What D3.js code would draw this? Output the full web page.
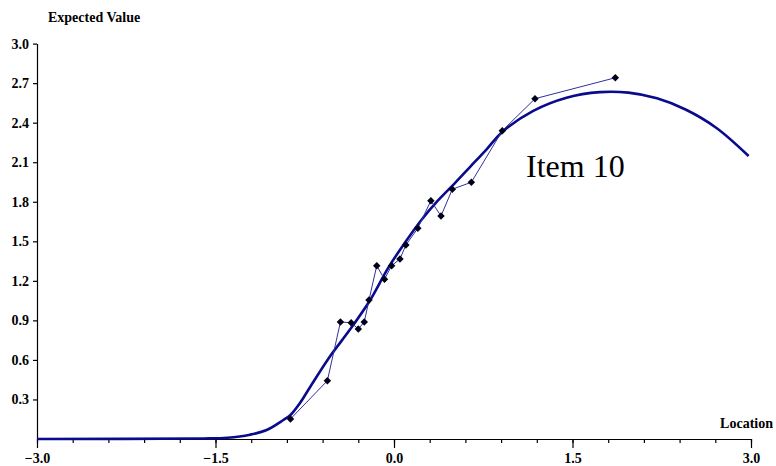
<!DOCTYPE html>
<html>
<head>
<meta charset="utf-8">
<style>
  body { margin: 0; background: #fff; }
  text { font-family: "Liberation Serif", "Times New Roman", serif; }
</style>
</head>
<body>
<script src="https://cdn.jsdelivr.net/npm/d3@7/dist/d3.min.js"></script>
<script>
  // expected value curve
  var curveX = [-3.0, -1.6, -1.4, -1.21, -1.07, -0.93, -0.87, -0.79, -0.71, -0.54, -0.37, -0.2,
                -0.05, 0.09, 0.23, 0.37, 0.51, 0.64, 0.78, 0.91, 1.17, 1.45, 1.73, 1.97, 2.21, 2.45, 2.71, 2.98];
  var curveY = [0.0, 0.004, 0.01, 0.033, 0.068, 0.144, 0.182, 0.273, 0.387, 0.624, 0.83, 1.055,
                1.297, 1.487, 1.662, 1.81, 1.94, 2.065, 2.2, 2.33, 2.49, 2.59, 2.632, 2.628, 2.585, 2.5, 2.36, 2.147];

  // observed means
  var obsX = [-0.87, -0.56, -0.45, -0.36, -0.3, -0.25, -0.21, -0.145, -0.08, -0.02, 0.05, 0.1,
              0.2, 0.31, 0.395, 0.49, 0.65, 0.91, 1.185, 1.86];
  var obsY = [0.152, 0.442, 0.888, 0.882, 0.835, 0.888, 1.055, 1.315, 1.212, 1.315, 1.366, 1.472,
              1.599, 1.808, 1.692, 1.895, 1.948, 2.339, 2.582, 2.741];

  var xMinor = d3.range(0, 21).map(i => -3 + i * 0.3);
  var xMajor = [-3.0, -1.5, 0.0, 1.5, 3.0];
  var yTicks = d3.range(1, 11).map(i => i * 0.3);

  var W = 776, H = 466;
  var svg = d3.select('body').append('svg')
    .attr('width', W)
    .attr('height', H);

  var x = d3.scaleLinear().domain([-3, 3]).range([37, 751]);
  var y = d3.scaleLinear().domain([0, 3]).range([439, 43.6]);

  // x axis
  var xMinorAxis = d3.axisBottom(x).tickValues(xMinor).tickSize(4).tickSizeOuter(0).tickFormat('');
  svg.append('g').attr('transform', 'translate(0,' + y(0) + ')').call(xMinorAxis);
  var xMajorAxis = d3.axisBottom(x).tickValues(xMajor).tickSize(9).tickSizeOuter(0)
    .tickPadding(5).tickFormat(d3.format('.1f'));
  var gx = svg.append('g').attr('transform', 'translate(0,' + y(0) + ')').call(xMajorAxis);
  gx.select('.domain').remove();

  // y axis
  var yAxis = d3.axisLeft(y).tickValues(yTicks).tickSize(4).tickSizeOuter(0)
    .tickPadding(4).tickFormat(d3.format('.1f'));
  svg.append('g').attr('transform', 'translate(' + x(-3) + ',0)').call(yAxis);

  svg.selectAll('.domain, .tick line').attr('stroke', '#000').attr('stroke-width', 1.2);
  svg.selectAll('.tick text')
    .attr('font-family', '"Liberation Serif", serif')
    .attr('font-size', 14)
    .attr('font-weight', 'bold')
    .attr('fill', '#000');

  // axis titles
  svg.append('text')
    .attr('x', 48).attr('y', 22)
    .attr('font-size', 14).attr('font-weight', 'bold')
    .text('Expected Value');
  svg.append('text')
    .attr('x', 773).attr('y', 428)
    .attr('text-anchor', 'end')
    .attr('font-size', 14).attr('font-weight', 'bold')
    .text('Location');

  // model curve
  var curvePts = curveX.map((v, i) => [v, curveY[i]]);
  var line = d3.line()
    .x(d => x(d[0]))
    .y(d => y(d[1]))
    .curve(d3.curveCatmullRom.alpha(0.5));
  svg.append('path')
    .datum(curvePts)
    .attr('fill', 'none')
    .attr('stroke', '#0a0a8c')
    .attr('stroke-width', 2.6)
    .attr('d', line);

  // observed
  var obsPts = obsX.map((v, i) => [v, obsY[i]]);
  svg.append('path')
    .datum(obsPts)
    .attr('fill', 'none')
    .attr('stroke', '#3030a0')
    .attr('stroke-width', 1)
    .attr('d', d3.line().x(d => x(d[0])).y(d => y(d[1])));
  svg.append('g')
    .selectAll('path')
    .data(obsPts)
    .join('path')
      .attr('transform', d => 'translate(' + x(d[0]) + ',' + y(d[1]) + ') rotate(45)')
      .attr('d', d3.symbol().type(d3.symbolSquare).size(28))
      .attr('fill', '#000018');

  svg.append('text')
    .attr('x', 526).attr('y', 177)
    .attr('font-size', 32)
    .text('Item 10');
</script>
</body>
</html>
